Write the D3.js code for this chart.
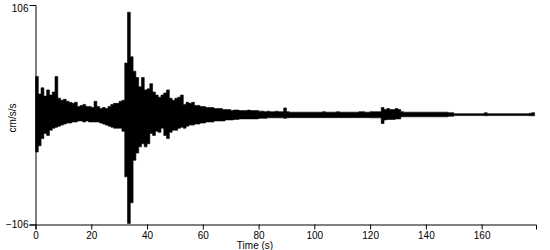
<!DOCTYPE html>
<html>
<head>
<meta charset="utf-8">
<script src="https://cdn.jsdelivr.net/npm/d3@7"></script>
<style>
  body { margin: 0; background: #fff; }
  svg { display: block; font-family: "Liberation Sans", Arial, sans-serif; }
</style>
</head>
<body>
<div id="chart"></div>
<script>
// per-second envelope of the trace (cm/s/s), read from the record
const upper = [
  37, 20, 26, 18, 24, 19, 22, 37, 16, 14,
  15, 13, 12, 11, 12, 8, 9, 10, 8, 8,
  7, 13, 8, 6, 7, 6, 8, 10, 11, 11,
  13, 14, 50, 99, 56, 42, 36, 27, 36, 24,
  25, 30, 22, 19, 17, 19, 21, 24, 16, 14,
  16, 17, 19, 10, 12, 11, 12, 9, 9, 8,
  8, 7, 7, 7, 6, 6, 6, 5, 5, 5,
  4, 4.5, 4.5, 4, 4, 4, 4.5, 4, 4, 4,
  3.5, 3.5, 3, 3.5, 3, 3, 3.5, 3, 3, 6.6,
  3, 2.5, 2.5, 2.5, 2.5, 2.5, 2.5, 2.5, 2.5, 2.5,
  2.5, 2.5, 2.5, 3, 2.5, 2.5, 2.5, 2.5, 3, 2.5,
  2.5, 2.5, 2.5, 2.5, 2.5, 2.5, 3, 3, 2.5, 2.5,
  3, 3, 3, 3, 7, 5, 6, 5, 5, 6,
  5, 3, 2.5, 2.5, 2.5, 2.5, 2.5, 2.5, 2.5, 2.5,
  2.5, 2.5, 2.5, 2.5, 2.5, 2.5, 2.5, 2.5, 2, 2,
  1, 1, 1, 1, 1, 1, 1, 1, 1, 1,
  1, 2, 1, 1, 1, 1, 1, 1, 1, 1,
  1, 1, 1, 1, 1, 1, 1, 1.5, 2, 1
];
const lower = [
  -36, -30, -23, -18, -20, -15, -13, -12, -11, -10,
  -9, -8, -8, -7, -7, -6, -6, -7, -6, -7,
  -7, -7, -7, -8, -9, -10, -11, -12, -13, -13,
  -13, -16, -60, -105, -85, -44, -37, -31, -28, -31,
  -28, -18, -20, -16, -17, -13, -20, -23, -17, -15,
  -15, -13, -12, -13, -11, -10, -10, -9, -9, -8,
  -8, -7, -7, -7, -6, -6, -6, -6, -5, -5,
  -5, -4.5, -4.5, -4, -4, -4, -4, -4, -4, -4,
  -3.5, -3.5, -3.5, -3, -3, -3, -3, -3, -3, -3.5,
  -3, -2.8, -2.8, -2.8, -2.8, -2.8, -2.8, -2.8, -2.8, -2.8,
  -2.8, -2.8, -2.8, -2.8, -2.8, -2.8, -2.8, -2.8, -2.8, -2.8,
  -2.8, -2.8, -2.8, -2.8, -2.8, -2.8, -2.8, -2.8, -2.8, -2.8,
  -3, -3, -3, -3, -8.5, -5, -4.6, -4.6, -4.6, -4,
  -4, -2, -2, -2, -2, -2, -2, -2, -2, -2,
  -2, -2, -2, -2, -2, -2, -2, -2, -1.5, -1.5,
  -0.8, -0.8, -0.8, -0.8, -0.8, -0.8, -0.8, -0.8, -0.8, -0.8,
  -0.8, -1, -0.8, -0.8, -0.8, -0.8, -0.8, -0.8, -0.8, -0.8,
  -0.8, -0.8, -0.8, -0.8, -0.8, -0.8, -0.8, -1, -1, -0.8
];
const xTicks = [0, 20, 40, 60, 80, 100, 120, 140, 160];
const yTicks = [-106, 106];

const width = 550, height = 250;

const x = d3.scaleLinear().domain([0, 179.5]).range([35.5, 536]);
const y = d3.scaleLinear().domain([-106, 106]).range([224.5, 5]);

const svg = d3.select("#chart").append("svg")
  .attr("width", width)
  .attr("height", height);

// filled band between upper and lower envelope, one step per second
const area = d3.area()
  .curve(d3.curveStepAfter)
  .x(function(d, i) { return x(i); })
  .y0(function(d, i) { return y(lower[i]); })
  .y1(function(d) { return y(d); });

svg.append("path")
  .datum(upper)
  .attr("fill", "#000")
  .attr("stroke", "#000")
  .attr("stroke-width", 0.6)
  .attr("d", area);

// x axis
svg.append("g")
  .attr("transform", "translate(0," + y(-106) + ")")
  .call(d3.axisBottom(x).tickValues(xTicks).tickSizeOuter(0).tickSize(5).tickPadding(2));

// y axis
const yAxis = svg.append("g")
  .attr("transform", "translate(" + x(0) + ",0)")
  .call(d3.axisLeft(y).tickValues(yTicks).tickSizeOuter(0).tickSize(6).tickPadding(1));

yAxis.selectAll(".tick line").filter(function(d) { return d > 0; }).remove();
yAxis.selectAll(".tick text").filter(function(d) { return d > 0; }).attr("dy", "0.6em");

svg.selectAll(".domain, .tick line").attr("stroke", "#000");
svg.selectAll(".tick text")
  .attr("fill", "#000")
  .style("font-size", "10px");

svg.append("text")
  .attr("x", 255)
  .attr("y", 249)
  .attr("text-anchor", "middle")
  .style("font-size", "10px")
  .text("Time (s)");

svg.append("text")
  .attr("transform", "translate(16,118) rotate(-90)")
  .attr("text-anchor", "middle")
  .style("font-size", "10px")
  .text("cm/s/s");
</script>
</body>
</html>
